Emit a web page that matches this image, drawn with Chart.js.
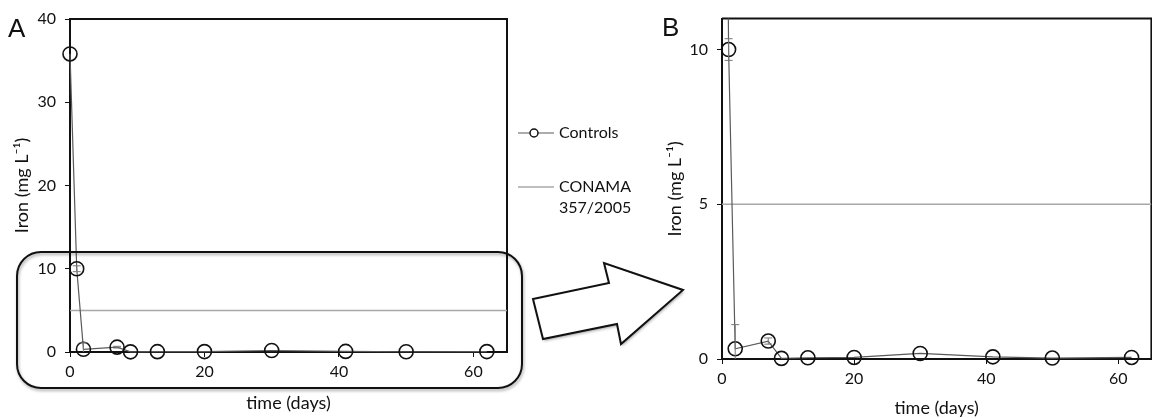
<!DOCTYPE html>
<html>
<head>
<meta charset="utf-8">
<script src="https://cdn.jsdelivr.net/npm/chart.js@4.4.0/dist/chart.umd.min.js"></script>
<style>
html, body { margin: 0; padding: 0; background: #fff; overflow: hidden; width: 1152px; height: 418px; }
canvas { position: absolute; top: 0; }
#chartA { left: 0; }
#chartB { left: 640px; }
#deco { left: 0; pointer-events: none; }
.panel { position: absolute; font-family: "Liberation Sans", Arial, sans-serif; font-size: 26px; color: #111; line-height: 1; }
</style>
</head>
<body>
<canvas id="chartA" width="640" height="418"></canvas>
<canvas id="chartB" width="520" height="418"></canvas>
<canvas id="deco" width="1152" height="418"></canvas>
<div class="panel" style="left:8px; top:15px;">A</div>
<div class="panel" style="left:662px; top:14px;">B</div>
<script>
// values
const days = [0, 1, 2, 7, 9, 13, 20, 30, 41, 50, 62];
const ironControls = [35.8, 10.0, 0.33, 0.58, 0.02, 0.04, 0.05, 0.18, 0.07, 0.03, 0.05];
const ironError = [0, 0.35, 0.78, 0.1, 0, 0, 0, 0, 0, 0, 0];
const conamaLimit = 5;
const xMax = 65;
const xStep = 20;
const yMaxA = 40, yStepA = 10;
const yMaxB = 11, yStepB = 5;
const seriesLabels = ['Controls', ['CONAMA', '357/2005']];

const FONT = 'Lato, "Open Sans", sans-serif';

function datasets(clipTop) {
  return [
    {
      label: seriesLabels[0],
      data: days.map((d, i) => ({ x: d, y: ironControls[i] })),
      borderColor: '#5a5a5a',
      borderWidth: 1.2,
      pointRadius: 7,
      pointHoverRadius: 7,
      pointBorderColor: '#111',
      pointBorderWidth: 1.6,
      pointBackgroundColor: 'rgba(0,0,0,0)',
      tension: 0,
      order: 0,
      clip: { left: 10, right: 10, top: clipTop, bottom: 10 }
    },
    {
      label: seriesLabels[1],
      data: [{ x: 0, y: conamaLimit }, { x: xMax, y: conamaLimit }],
      borderColor: '#a8a8a8',
      borderWidth: 1.5,
      pointRadius: 0,
      tension: 0,
      order: 1
    }
  ];
}

const framePlugin = {
  id: 'frame',
  beforeDatasetsDraw(chart) {
    const { ctx, chartArea: a } = chart;
    ctx.save();
    ctx.strokeStyle = '#111';
    ctx.lineWidth = 2;
    ctx.beginPath();
    ctx.moveTo(a.left, a.top);
    ctx.lineTo(a.right, a.top);
    ctx.lineTo(a.right, a.bottom);
    ctx.stroke();
    ctx.restore();
  }
};

const errorPlugin = {
  id: 'errorBars',
  afterDatasetsDraw(chart) {
    const { ctx, chartArea: a, scales } = chart;
    ctx.save();
    ctx.beginPath();
    ctx.rect(a.left, a.top, a.right - a.left, a.bottom - a.top);
    ctx.clip();
    ctx.strokeStyle = '#777';
    ctx.lineWidth = 1;
    days.forEach((d, i) => {
      const e = ironError[i];
      if (!e) return;
      const x = scales.x.getPixelForValue(d);
      const y1 = scales.y.getPixelForValue(ironControls[i] + e);
      const y2 = scales.y.getPixelForValue(ironControls[i] - e);
      ctx.beginPath();
      ctx.moveTo(x, y1); ctx.lineTo(x, y2);
      ctx.moveTo(x - 4, y1); ctx.lineTo(x + 4, y1);
      ctx.moveTo(x - 4, y2); ctx.lineTo(x + 4, y2);
      ctx.stroke();
    });
    ctx.restore();
  }
};

const sideLegend = {
  id: 'sideLegend',
  afterDraw(chart, args, opts) {
    if (!opts.show) return;
    const ctx = chart.ctx;
    const x0 = chart.chartArea.right + 11;
    ctx.save();
    ctx.font = '16px ' + FONT;
    ctx.fillStyle = '#111';
    ctx.textBaseline = 'middle';
    chart.data.datasets.forEach((ds, i) => {
      const y = opts.rows[i];
      ctx.strokeStyle = ds.borderColor;
      ctx.lineWidth = ds.borderWidth;
      ctx.beginPath(); ctx.moveTo(x0, y); ctx.lineTo(x0 + 36, y); ctx.stroke();
      if (ds.pointRadius > 0) {
        ctx.beginPath();
        ctx.arc(x0 + 16, y, 4, 0, Math.PI * 2);
        ctx.fillStyle = '#fff'; ctx.fill();
        ctx.strokeStyle = ds.pointBorderColor; ctx.lineWidth = 1.5; ctx.stroke();
        ctx.fillStyle = '#111';
      }
      const lines = Array.isArray(ds.label) ? ds.label : [ds.label];
      lines.forEach((t, k) => ctx.fillText(t, x0 + 41, y + k * 21));
    });
    ctx.restore();
  }
};

function makeChart(id, cfg) {
  return new Chart(document.getElementById(id), {
    type: 'line',
    data: { datasets: datasets(cfg.clipTop) },
    options: {
      responsive: false,
      animation: false,
      events: [],
      layout: { padding: { left: 0, top: cfg.top, right: cfg.right, bottom: 0 } },
      plugins: {
        legend: { display: false },
        tooltip: { enabled: false },
        sideLegend: { show: cfg.legend, rows: [133, 187] }
      },
      scales: {
        x: {
          type: 'linear',
          min: 0,
          max: xMax,
          afterFit: s => { s.height = cfg.xHeight; },
          ticks: { stepSize: xStep, includeBounds: false, padding: 5, color: '#111', font: { family: FONT, size: 16 } },
          grid: { drawOnChartArea: false, tickLength: 5, color: '#111' },
          border: { color: '#111', width: 2 },
          title: { display: true, text: 'time (days)', color: '#111', font: { family: FONT, size: 18 }, padding: { top: 0, bottom: cfg.xTitlePad } }
        },
        y: {
          type: 'linear',
          min: 0,
          max: cfg.yMax,
          afterFit: s => { s.width = cfg.yWidth; },
          ticks: { stepSize: cfg.yStep, includeBounds: false, padding: 9, color: '#111', font: { family: FONT, size: 16 } },
          grid: { drawOnChartArea: false, tickLength: 5, color: '#111' },
          border: { color: '#111', width: 2 },
          title: { display: true, text: 'Iron (mg L\u207B\u00B9)', color: '#111', font: { family: FONT, size: 18 }, padding: { top: cfg.yTitlePad, bottom: 0 } }
        }
      }
    },
    plugins: [framePlugin, errorPlugin, sideLegend]
  });
}

makeChart('chartA', { top: 19, right: 133, xHeight: 66, yWidth: 70, yMax: yMaxA, yStep: yStepA, xTitlePad: 4, yTitlePad: 11, legend: true, clipTop: 10 });
makeChart('chartB', { top: 18, right: 2, xHeight: 59, yWidth: 82, yMax: yMaxB, yStep: yStepB, xTitlePad: -1, yTitlePad: 24, legend: false, clipTop: 0 });

// callout: rounded box around the low range of A and the arrow towards B
const dc = document.getElementById('deco').getContext('2d');
dc.save();
dc.shadowColor = 'rgba(0,0,0,0.35)';
dc.shadowBlur = 3;
dc.shadowOffsetX = 1;
dc.shadowOffsetY = 2;
dc.strokeStyle = '#111';
dc.lineWidth = 2;
dc.beginPath();
dc.roundRect(17, 252, 505, 136, 24);
dc.stroke();
dc.beginPath();
dc.moveTo(533, 299);
dc.lineTo(609, 283);
dc.lineTo(604, 263);
dc.lineTo(683, 290);
dc.lineTo(621, 344);
dc.lineTo(617, 324);
dc.lineTo(543, 339);
dc.closePath();
dc.fillStyle = '#fff';
dc.fill();
dc.shadowColor = 'rgba(0,0,0,0)';
dc.stroke();
dc.restore();
</script>
</body>
</html>
